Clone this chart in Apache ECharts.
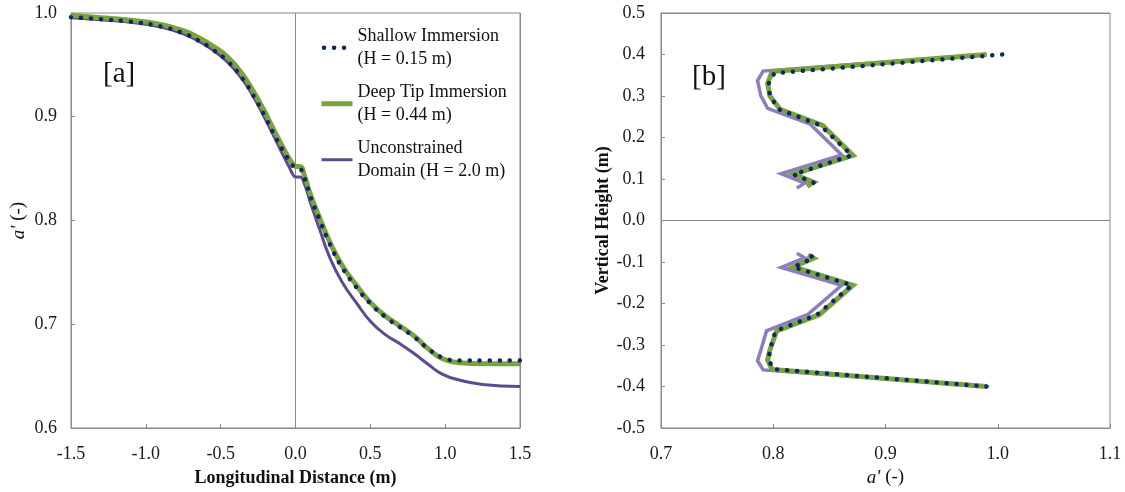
<!DOCTYPE html>
<html><head><meta charset="utf-8">
<script src="https://cdn.jsdelivr.net/npm/echarts@6/dist/echarts.min.js"></script>
<style>html,body{margin:0;padding:0;background:#fff}#c{width:1125px;height:492px}</style>
</head><body><div id="c"></div>
<script>
// ---------- Panel [a] : a' vs longitudinal distance ----------
const distX = [-1.5,-1.3,-1.1,-0.9,-0.75,-0.65,-0.55,-0.45,-0.35,-0.28,-0.21,-0.14,-0.09,-0.04,-0.02,0.0,0.03,0.06,0.10,0.16,0.23,0.31,0.41,0.50,0.60,0.70,0.79,0.89,0.98,1.10,1.25,1.5];
const shallowA = [0.996,0.994,0.9915,0.987,0.9805,0.9735,0.9645,0.953,0.936,0.920,0.902,0.882,0.869,0.857,0.853,0.851,0.850,0.841,0.823,0.801,0.777,0.755,0.735,0.720,0.707,0.697,0.688,0.676,0.668,0.665,0.665,0.665];
const deepA    = [0.9975,0.9955,0.993,0.989,0.983,0.9765,0.968,0.957,0.940,0.924,0.906,0.886,0.872,0.859,0.855,0.852,0.852,0.843,0.825,0.803,0.779,0.757,0.737,0.721,0.708,0.698,0.689,0.676,0.667,0.663,0.662,0.662];
const unconA   = [0.9955,0.9935,0.991,0.9865,0.980,0.973,0.964,0.952,0.935,0.919,0.900,0.880,0.865,0.851,0.845,0.842,0.842,0.835,0.817,0.792,0.764,0.741,0.720,0.703,0.690,0.681,0.672,0.661,0.652,0.646,0.642,0.640];

// ---------- Panel [b] : vertical profile of a' ([a', height]) ----------
const shallowUpper = [[1.004,0.400],[0.801,0.355],[0.796,0.330],[0.797,0.300],[0.805,0.268],[0.842,0.229],[0.870,0.157],[0.818,0.111],[0.836,0.091],[0.830,0.078]];
const deepUpper    = [[0.990,0.400],[0.799,0.359],[0.795,0.330],[0.797,0.300],[0.806,0.268],[0.844,0.229],[0.871,0.157],[0.818,0.112],[0.836,0.092],[0.830,0.082]];
const unconUpper   = [[0.990,0.400],[0.791,0.360],[0.786,0.337],[0.789,0.300],[0.795,0.270],[0.833,0.232],[0.861,0.158],[0.807,0.113],[0.828,0.090],[0.821,0.078]];
const shallowLower = [[0.990,-0.400],[0.800,-0.358],[0.796,-0.336],[0.797,-0.312],[0.802,-0.266],[0.839,-0.227],[0.870,-0.156],[0.818,-0.112],[0.836,-0.090],[0.831,-0.080]];
const deepLower    = [[0.990,-0.400],[0.799,-0.359],[0.795,-0.336],[0.797,-0.312],[0.803,-0.266],[0.841,-0.227],[0.871,-0.156],[0.818,-0.112],[0.836,-0.091],[0.831,-0.083]];
const unconLower   = [[0.990,-0.400],[0.791,-0.360],[0.786,-0.338],[0.789,-0.312],[0.794,-0.266],[0.831,-0.226],[0.861,-0.156],[0.807,-0.113],[0.828,-0.090],[0.821,-0.079]];

const seriesNames = ['Shallow Immersion\n(H = 0.15 m)','Deep Tip Immersion\n(H = 0.44 m)','Unconstrained\nDomain (H = 2.0 m)'];
const xTicksA = [-1.5,-1.0,-0.5,0.0,0.5,1.0,1.5];
const yTicksA = [0.6,0.7,0.8,0.9,1.0];
const xTicksB = [0.7,0.8,0.9,1.0,1.1];
const yTicksB = [-0.5,-0.4,-0.3,-0.2,-0.1,0.0,0.1,0.2,0.3,0.4,0.5];

const FONT = '"Liberation Serif","Times New Roman",serif';
const AX = '#8a8a8a';
const C_DOT = '#0c2a66', C_GREEN = '#7aa33d', C_PURPLE_A = '#5e4a8c', C_PURPLE_B = '#8c7cc0';
const DOT_STYLE = {color: C_DOT, width: 4.5, type: [0.1, 9.9], cap: 'round'};

const zip = (xs, ys) => xs.map((x, i) => [x, ys[i]]);
const fmt1 = v => v.toFixed(1);

const boldName = {fontFamily: FONT, fontSize: 18, fontWeight: 'bold', color: '#111'};
const italicName = {fontFamily: FONT, fontSize: 19, fontWeight: 'normal', color: '#111',
  rich: {i: {fontFamily: FONT, fontSize: 19, fontStyle: 'italic', color: '#111'}}};

function mainAxis(grid, min, max, interval, name, gap, labelMargin, nameStyle) {
  return {
    type: 'value', gridIndex: grid, min, max, interval,
    name, nameLocation: 'middle', nameGap: gap, nameTextStyle: nameStyle,
    axisLine: {show: true, onZero: false, lineStyle: {color: AX, width: 1}},
    axisTick: {show: true, inside: true, length: 4, lineStyle: {color: AX}},
    axisLabel: {fontFamily: FONT, fontSize: 18, color: '#1a1a1a', margin: labelMargin, formatter: fmt1},
    splitLine: {show: false}
  };
}
function zeroAxis(grid, min, max, interval) {
  return {
    type: 'value', gridIndex: grid, min, max, interval,
    axisLine: {show: false}, axisTick: {show: false}, axisLabel: {show: false},
    splitLine: {show: true, lineStyle: {color: AX, width: 1}}
  };
}

const lineBase = {type: 'line', symbol: 'none', showSymbol: false, silent: true, animation: false};

const option = {
  animation: false,
  backgroundColor: '#fff',
  title: [
    {text: '[a]', left: 98, top: 55, textStyle: {fontFamily: FONT, fontSize: 29, fontWeight: 'normal', color: '#111'}},
    {text: '[b]', left: 687, top: 58, textStyle: {fontFamily: FONT, fontSize: 29, fontWeight: 'normal', color: '#111'}}
  ],
  legend: {
    orient: 'vertical', left: 319, top: 14, padding: 0,
    itemWidth: 31, itemHeight: 6, itemGap: -11.5,
    selectedMode: false,
    itemStyle: {opacity: 0},
    textStyle: {fontFamily: FONT, fontSize: 18, color: '#111', lineHeight: 22.5, padding: [22.5, 0, 0, 0]},
    data: [
      {name: seriesNames[0], lineStyle: {color: C_DOT, width: 4.5, type: [0.1, 9.9], cap: 'round', dashOffset: -2.5}},
      {name: seriesNames[1], lineStyle: {color: C_GREEN, width: 5, type: 'solid', cap: 'butt'}},
      {name: seriesNames[2], lineStyle: {color: C_PURPLE_A, width: 3, type: 'solid', cap: 'butt'}}
    ]
  },
  grid: [
    {left: 71, top: 13, width: 449, height: 419, show: true, borderColor: AX, borderWidth: 1, backgroundColor: 'transparent'},
    {left: 661, top: 13, width: 449, height: 419, show: true, borderColor: AX, borderWidth: 1, backgroundColor: 'transparent'}
  ],
  xAxis: [
    mainAxis(0, xTicksA[0], xTicksA[xTicksA.length-1], 0.5, 'Longitudinal Distance (m)', 41, 17, boldName),
    zeroAxis(0, -1.5, 1.5, 1.5),
    mainAxis(1, xTicksB[0], xTicksB[xTicksB.length-1], 0.1, "{i|a'} (-)", 40, 17, italicName)
  ],
  yAxis: [
    mainAxis(0, yTicksA[0], yTicksA[yTicksA.length-1], 0.1, "{i|a'} (-)", 43, 14, italicName),
    mainAxis(1, yTicksB[0], yTicksB[yTicksB.length-1], 0.1, 'Vertical Height (m)', 46, 16, boldName),
    zeroAxis(1, -0.5, 0.5, 0.5)
  ],
  series: [
    Object.assign({}, lineBase, {name: seriesNames[2], xAxisIndex: 0, yAxisIndex: 0, z: 3,
      smooth: 0.5, data: zip(distX, unconA),
      lineStyle: {color: C_PURPLE_A, width: 3}, itemStyle: {color: C_PURPLE_A}}),
    Object.assign({}, lineBase, {name: seriesNames[1], xAxisIndex: 0, yAxisIndex: 0, z: 4,
      smooth: 0.5, data: zip(distX, deepA),
      lineStyle: {color: C_GREEN, width: 5}, itemStyle: {color: C_GREEN}}),
    Object.assign({}, lineBase, {name: seriesNames[0], xAxisIndex: 0, yAxisIndex: 0, z: 5,
      smooth: 0.5, data: zip(distX, shallowA),
      lineStyle: DOT_STYLE, itemStyle: {color: C_DOT}}),

    Object.assign({}, lineBase, {name: 'b-uncon-up', xAxisIndex: 2, yAxisIndex: 1, z: 3, data: unconUpper,
      lineStyle: {color: C_PURPLE_B, width: 3.5, join: 'miter'}}),
    Object.assign({}, lineBase, {name: 'b-uncon-low', xAxisIndex: 2, yAxisIndex: 1, z: 3, data: unconLower,
      lineStyle: {color: C_PURPLE_B, width: 3.5, join: 'miter'}}),
    Object.assign({}, lineBase, {name: 'b-deep-up', xAxisIndex: 2, yAxisIndex: 1, z: 4, data: deepUpper,
      lineStyle: {color: C_GREEN, width: 5, join: 'miter'}}),
    Object.assign({}, lineBase, {name: 'b-deep-low', xAxisIndex: 2, yAxisIndex: 1, z: 4, data: deepLower,
      lineStyle: {color: C_GREEN, width: 5, join: 'miter'}}),
    Object.assign({}, lineBase, {name: 'b-shallow-up', xAxisIndex: 2, yAxisIndex: 1, z: 5, data: shallowUpper,
      lineStyle: DOT_STYLE}),
    Object.assign({}, lineBase, {name: 'b-shallow-low', xAxisIndex: 2, yAxisIndex: 1, z: 5, data: shallowLower,
      lineStyle: DOT_STYLE})
  ]
};
const chart = echarts.init(document.getElementById('c'), null, {renderer: 'canvas', width: 1125, height: 492});
chart.setOption(option);
</script>
</body></html>
